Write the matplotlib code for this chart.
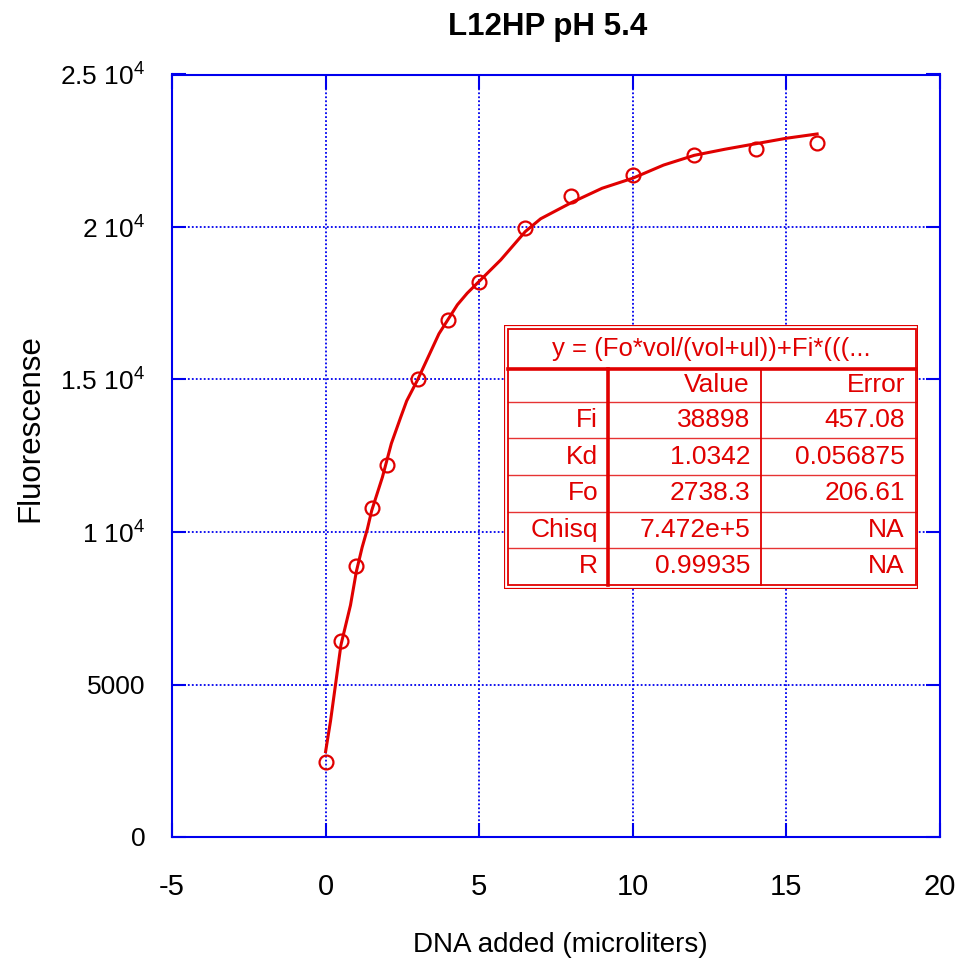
import matplotlib
matplotlib.use("Agg")
import matplotlib.pyplot as plt
from matplotlib.patches import Rectangle

plt.rcParams['font.family'] = 'Liberation Sans'
plt.rcParams['mathtext.fontset'] = 'custom'
plt.rcParams['mathtext.rm'] = 'Liberation Sans'
plt.rcParams['mathtext.it'] = 'Liberation Sans'
plt.rcParams['mathtext.bf'] = 'Liberation Sans:bold'

RED = '#e00000'
BLUE = '#0000ee'

# measured points
vol = [0, 0.5, 1, 1.5, 2, 3, 4, 5, 6.5, 8, 10, 12, 14, 16]
fluor = [2460, 6410, 8900, 10800, 12200, 15000, 16950, 18200, 19980, 21000, 21700, 22350, 22550, 22760]

# fitted curve
fit_x = [0, 0.16, 0.5, 0.81, 1.0, 1.19, 1.36, 1.5, 1.85, 2.14, 2.44, 2.64, 3.0, 3.69,
         4.29, 4.61, 5.0, 5.7, 6.5, 7.0, 8.0, 9.0, 10.0, 11.0, 12.0, 13.0, 14.0, 15.0, 16.0]
fit_y = [2800, 3800, 6300, 7600, 8700, 9500, 10100, 10700, 11800, 12900, 13750, 14300, 15000, 16500,
         17450, 17830, 18220, 18920, 19850, 20270, 20800, 21270, 21600, 22030, 22350, 22550, 22730, 22910, 23050]

xticks = [-5, 0, 5, 10, 15, 20]
yticks = [0, 5000, 10000, 15000, 20000, 25000]
ytick_labels = ['0', '5000', '1 10$^{4}$', '1.5 10$^{4}$', '2 10$^{4}$', '2.5 10$^{4}$']

# fit table
fit_eq = 'y = (Fo*vol/(vol+ul))+Fi*(((...'
col_head = ['', 'Value', 'Error']
row_names = ['Fi', 'Kd', 'Fo', 'Chisq', 'R']
row_value = ['38898', '1.0342', '2738.3', '7.472e+5', '0.99935']
row_error = ['457.08', '0.056875', '206.61', 'NA', 'NA']

W, H = 959, 967
fig = plt.figure(figsize=(W / 100, H / 100), dpi=100)
ax = fig.add_axes([172 / W, 1 - 837 / H, 768 / W, 762.5 / H])

ax.plot(fit_x, fit_y, color=RED, lw=2.2, zorder=3)
ax.plot(vol, fluor, 'o', mfc='none', mec=RED, mew=1.6, ms=10, zorder=4)

ax.set_xlim(-5, 20)
ax.set_ylim(0, 25000)
ax.set_xticks(xticks)
ax.set_xticklabels([str(t) for t in xticks])
ax.set_yticks(yticks)
ax.set_yticklabels(ytick_labels)
ax.tick_params(axis='both', direction='in', length=10, width=1.5, color=BLUE,
               top=True, right=True)
ax.tick_params(axis='x', labelsize=21, pad=26)
ax.tick_params(axis='y', labelsize=19, pad=19)
for s in ax.spines.values():
    s.set_color(BLUE)
    s.set_linewidth(1.5)
ax.grid(color=BLUE, linestyle=(0, (1, 1.2)), linewidth=1.3)
ax.set_axisbelow(True)

fig.text(548 / W, 1 - 27 / H, 'L12HP pH 5.4', ha='center', va='center',
         fontsize=22.5, fontweight='bold')
fig.text(560 / W, 1 - 945 / H, 'DNA added (microliters)', ha='center', va='center', fontsize=20)
fig.text(30 / W, 1 - 428 / H, 'Fluorescense', ha='center', va='center',
         rotation=90, fontsize=22.5)

# table drawn in its own pixel-space axes
x0, x1, y0, y1 = 504, 918.3, 324.7, 588.7
tax = fig.add_axes([x0 / W, 1 - y1 / H, (x1 - x0) / W, (y1 - y0) / H])
tax.set_xlim(x0, x1)
tax.set_ylim(y1, y0)
tax.set_axis_off()
tax.add_patch(Rectangle((x0, y0), x1 - x0, y1 - y0, facecolor='white', edgecolor=RED, lw=1.6))
ix0, ix1, iy0, iy1 = 507.5, 915.5, 329, 585
tax.add_patch(Rectangle((ix0, iy0), ix1 - ix0, iy1 - iy0, facecolor='none', edgecolor=RED, lw=1.3))

row_lines = [368.7, 402.3, 438.3, 475, 511.7, 547.7, 585]
tax.plot([ix0, ix1], [row_lines[0]] * 2, color=RED, lw=2.6)
for yl in row_lines[1:-1]:
    tax.plot([ix0, ix1], [yl, yl], color=RED, lw=1.0, alpha=0.8)
tax.plot([607.7, 607.7], [row_lines[0], iy1], color=RED, lw=2.6)
tax.plot([760.7, 760.7], [row_lines[0], iy1], color=RED, lw=1.3)

tax.text((ix0 + ix1) / 2, 349, fit_eq, ha='center', va='center', color=RED, fontsize=18.5)
col_right = [598, 750, 905]
rows = [col_head] + [[n, v, e] for n, v, e in zip(row_names, row_value, row_error)]
for i, row in enumerate(rows):
    yc = (row_lines[i] + row_lines[i + 1]) / 2
    for xr, txt in zip(col_right, row):
        tax.text(xr, yc, txt, ha='right', va='center', color=RED, fontsize=19)

fig.savefig('out.png', dpi=100)
